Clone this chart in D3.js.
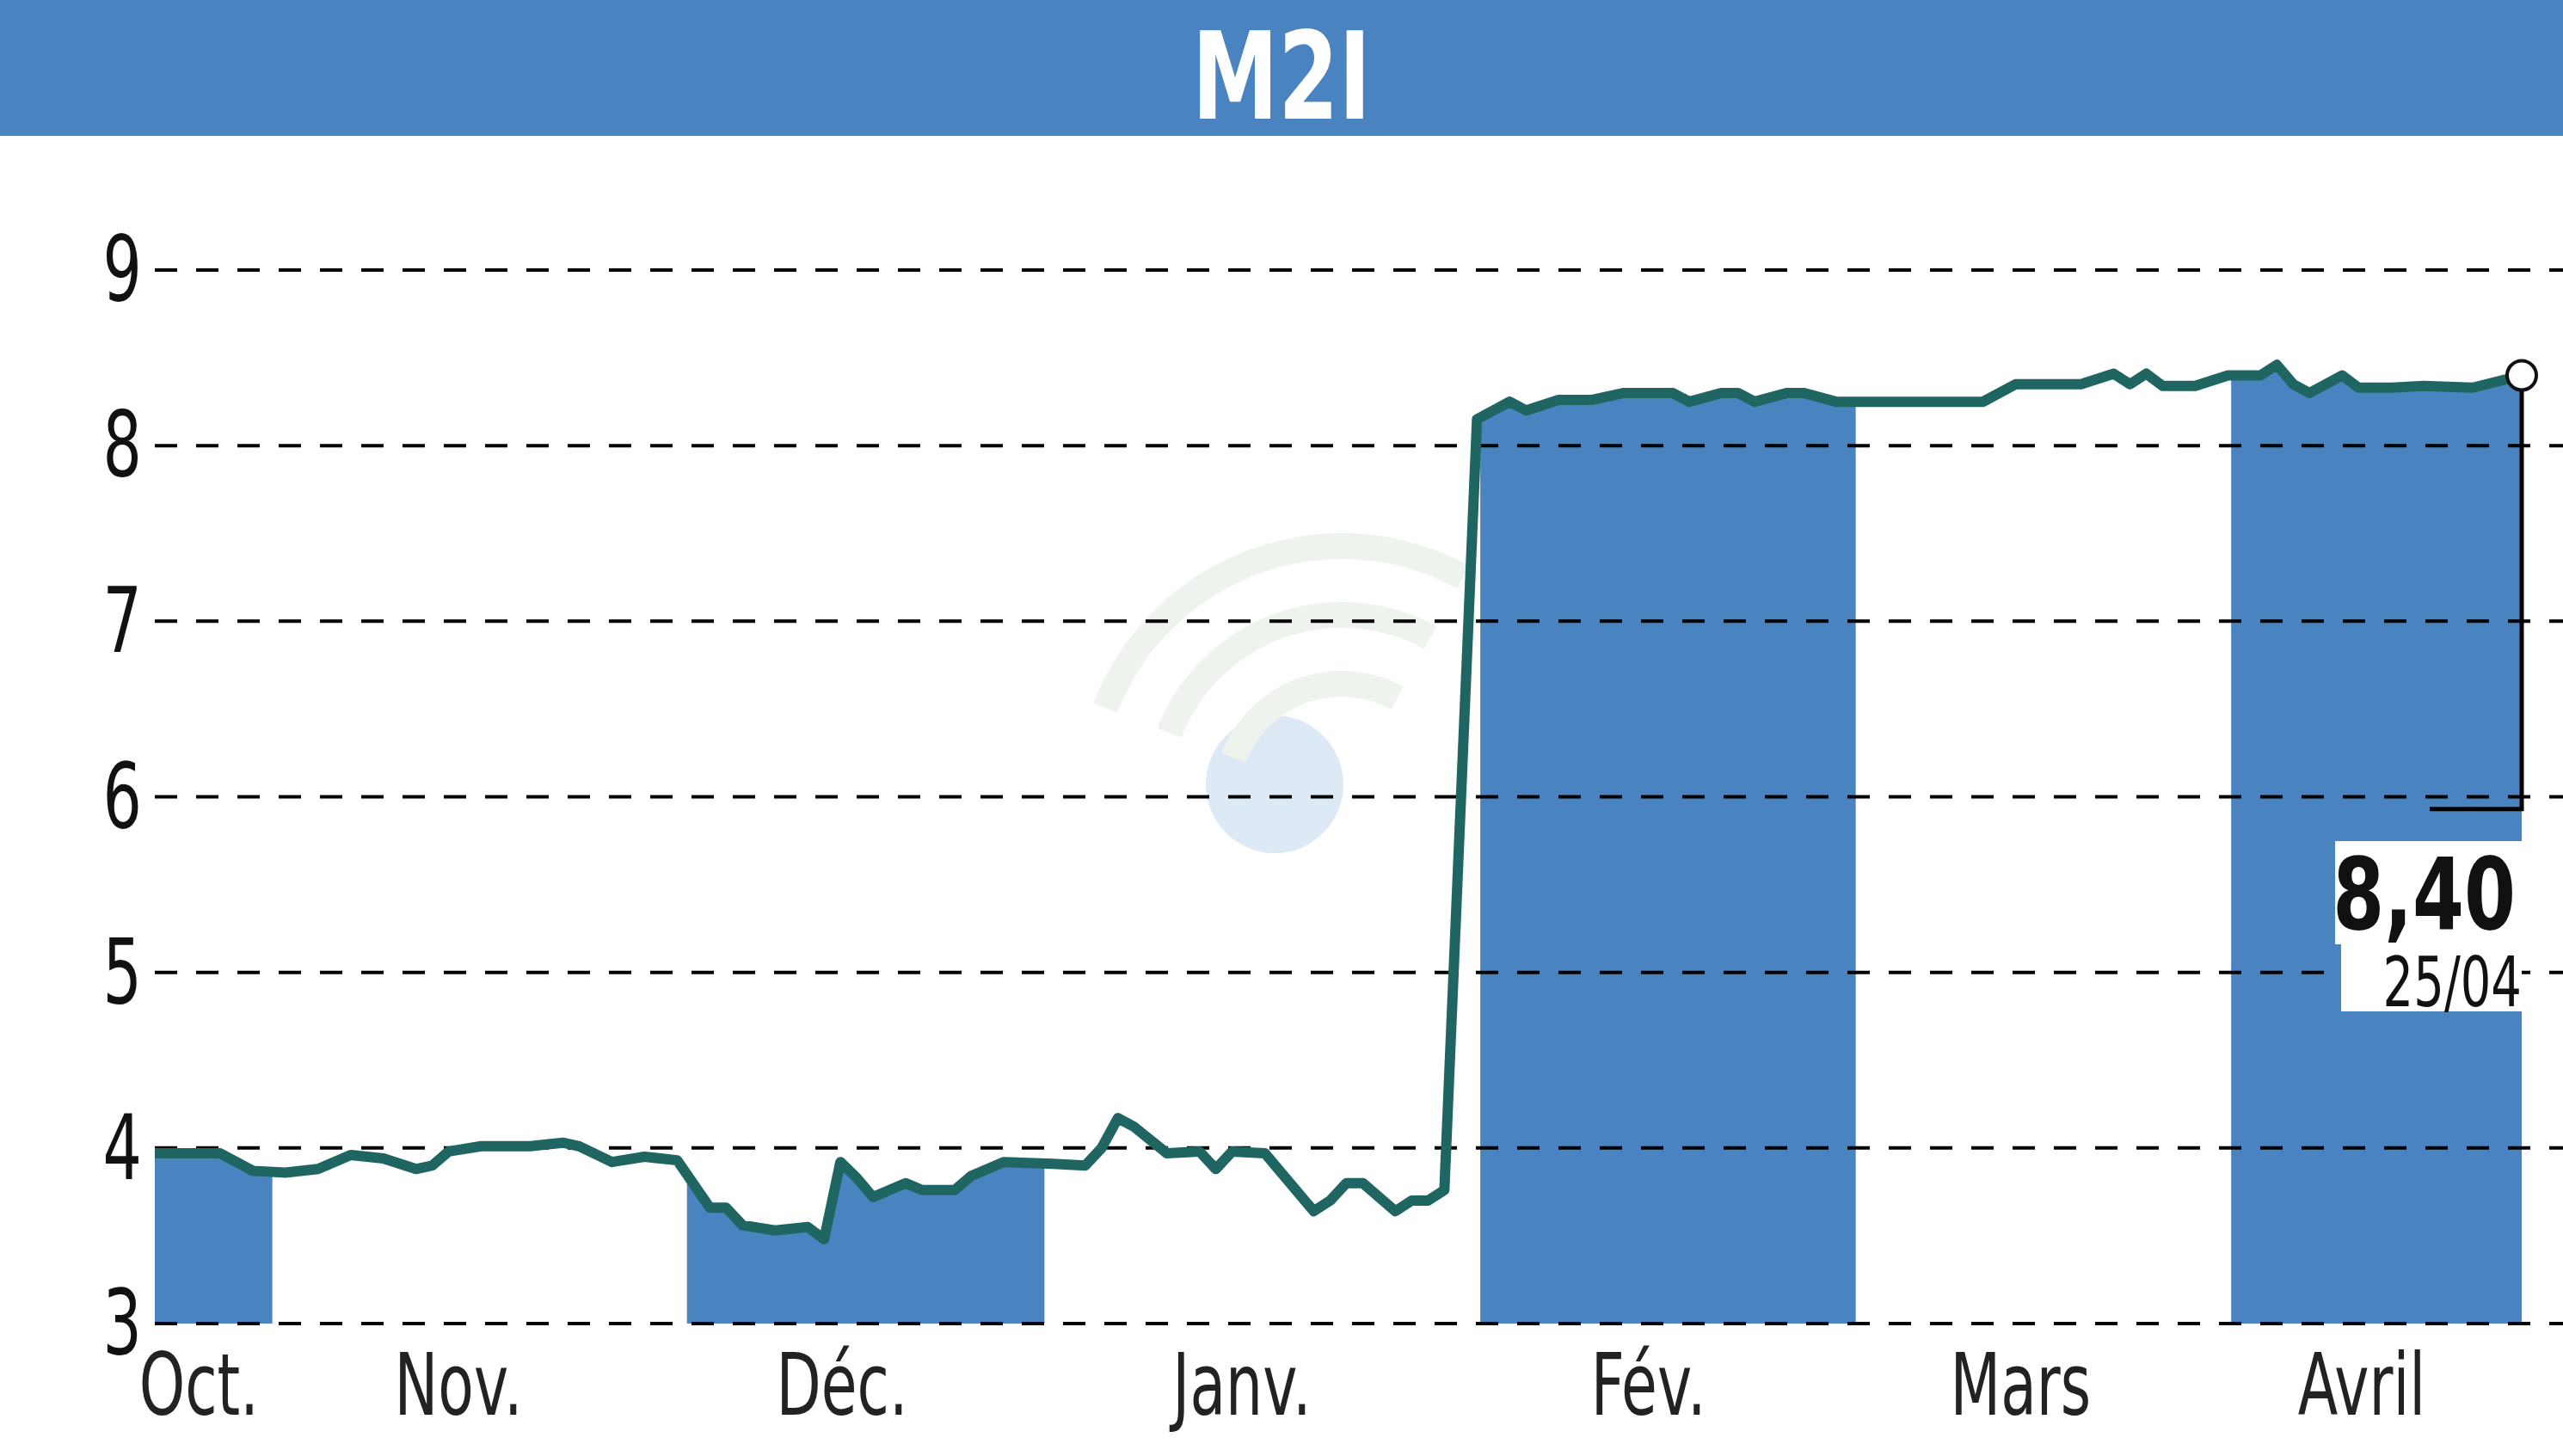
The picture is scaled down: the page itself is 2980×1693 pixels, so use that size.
<!DOCTYPE html>
<html><head><meta charset="utf-8">
<script src="https://cdn.jsdelivr.net/npm/d3@7"></script>
<style>body{margin:0;background:#fff}text{font-family:"Liberation Sans Narrow","DejaVu Sans",sans-serif}</style>
</head><body>
<svg id="chart" width="2980" height="1693"></svg>
<script>
// trading day index and closing price
const days = [0,4,6,8,10,12,14,16,17,18,20,23,25,26,28,30,32,34,35,36,38,40,41,42,43,44,46,47,49,50,52,55,57,58,59,60,62,64,65,66,68,71,72,73,74,76,77,78,79,81,83,84,86,88,90,93,94,96,97,98,100,101,103,112,114,118,120,121,122,123,125,127,129,130,131,132,134,135,137,139,142,145];
const prices = [3.97,3.97,3.87,3.86,3.88,3.96,3.94,3.88,3.90,3.98,4.01,4.01,4.03,4.01,3.92,3.95,3.93,3.66,3.66,3.56,3.53,3.55,3.48,3.92,3.83,3.72,3.80,3.76,3.76,3.84,3.92,3.91,3.90,4.00,4.17,4.12,3.97,3.98,3.88,3.98,3.97,3.64,3.70,3.80,3.80,3.64,3.70,3.70,3.76,8.15,8.25,8.20,8.26,8.26,8.30,8.30,8.25,8.30,8.30,8.25,8.30,8.30,8.25,8.25,8.35,8.35,8.41,8.35,8.41,8.34,8.34,8.40,8.40,8.46,8.35,8.30,8.40,8.33,8.33,8.34,8.33,8.40];
const monthLabels = ["Oct.","Nov.","Déc.","Janv.","Fév.","Mars","Avril"];
const monthCenters = [2.7,18.6,42.1,66.6,91.5,114.3,135.2];
const shadedMonths = [[0,7.2],[32.6,54.5],[81.2,104.2],[127.2,145]];
const yTicks = [3,4,5,6,7,8,9];
const lastLabel = "8,40", lastDate = "25/04";

const svg = d3.select("#chart");
const x = d3.scaleLinear().domain([0,145]).range([180,2932]);
const y = d3.scaleLinear().domain([3,9]).range([1539,314]);

// narrow text helper: squeeze horizontally
function ntext(g, tx, ty, size, anchor, str, sx) {
  return g.append("text").attr("transform",`translate(${tx},${ty}) scale(${sx||0.68},1)`)
    .attr("text-anchor",anchor).attr("font-size",size).text(str);
}

// header
svg.append("rect").attr("width",2980).attr("height",158).attr("fill","#4a84c0");
ntext(svg,1490,138,140,"middle","M2I",0.72).attr("fill","#fff").attr("font-weight","bold");

// watermark
const wm = svg.append("g").attr("opacity",0.22);
wm.append("circle").attr("cx",1482).attr("cy",912).attr("r",80).attr("fill","#6d9fd8");
[150,230,310].forEach(r => wm.append("path")
  .attr("d", d3.arc().innerRadius(r-30).outerRadius(r).startAngle(-1.2).endAngle(0.5)())
  .attr("transform","translate(1560,930)").attr("fill","#b7ccb7"));

// shaded area under line for alternate months
const area = d3.area().x((d,i)=>x(days[i])).y0(y(3)).y1(d=>y(d));
const cp = svg.append("defs").append("clipPath").attr("id","bands");
shadedMonths.forEach(b => cp.append("rect").attr("x",x(b[0])).attr("y",0)
  .attr("width",x(b[1])-x(b[0])).attr("height",1539));
svg.append("path").datum(prices).attr("d",area).attr("fill","#4a84c0").attr("clip-path","url(#bands)");

// grid
svg.append("g").selectAll("line").data(yTicks).join("line")
  .attr("x1",180).attr("x2",2980).attr("y1",d=>y(d)).attr("y2",d=>y(d))
  .attr("stroke","#000").attr("stroke-width",4).attr("stroke-dasharray","26,22");
const yl = svg.append("g").attr("fill","#111");
yTicks.forEach(t => ntext(yl,165,y(t)+36,105,"end",t));

// month labels
const ml = svg.append("g").attr("fill","#222");
monthLabels.forEach((m,i) => ntext(ml,x(monthCenters[i]),1645,100,"middle",m));

// annotation
const lx = x(days[days.length-1]), ly = y(prices[prices.length-1]);
svg.append("path").attr("d",`M${lx},${ly} V${y(5.93)} H2825`).attr("fill","none")
  .attr("stroke","#000").attr("stroke-width",5);
svg.append("rect").attr("x",2715).attr("y",978).attr("width",220).attr("height",120).attr("fill","#fff");
svg.append("rect").attr("x",2722).attr("y",1098).attr("width",210).attr("height",78).attr("fill","#fff");
ntext(svg,2925,1080,115,"end",lastLabel,0.75).attr("font-weight","bold").attr("fill","#111");
ntext(svg,2932,1170,80,"end",lastDate,0.7).attr("fill","#111");

// price line
svg.append("path").datum(prices)
  .attr("d",d3.line().x((d,i)=>x(days[i])).y(d=>y(d)))
  .attr("fill","none").attr("stroke","#1f6663").attr("stroke-width",12).attr("stroke-linejoin","round");
svg.append("circle").attr("cx",lx).attr("cy",ly).attr("r",17)
  .attr("fill","#fff").attr("stroke","#111").attr("stroke-width",4);
</script>
</body></html>
